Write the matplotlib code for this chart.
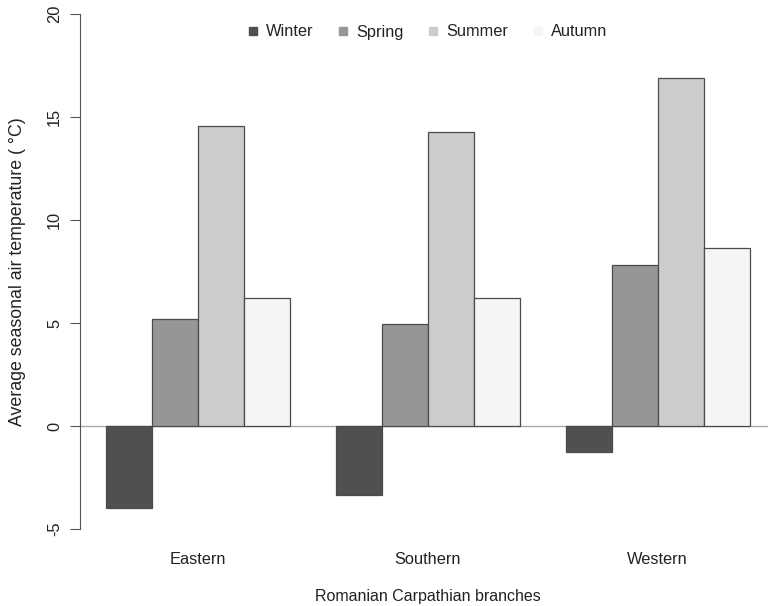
import numpy as np
import matplotlib.pyplot as plt
from matplotlib.lines import Line2D

plt.rcParams['font.family'] = ['Liberation Sans', 'DejaVu Sans']

# Data
branches = ["Eastern", "Southern", "Western"]
seasons = ["Winter", "Spring", "Summer", "Autumn"]
winter = [-4.0, -3.35, -1.25]
spring = [5.2, 4.95, 7.8]
summer = [14.55, 14.25, 16.9]
autumn = [6.2, 6.2, 8.65]
colors = ["#505050", "#969696", "#cccccc", "#f5f5f5"]

values = [winter, spring, summer, autumn]
fs = 11.8

fig = plt.figure(figsize=(7.68, 6.06), dpi=100)
ax = fig.add_axes([80 / 768, 1 - 549.6 / 606, 1 - 80 / 768, (549.6 + 6.6) / 606])

# R-style barplot layout: 1 unit gap before each group, bars of width 1
for i, (vals, col) in enumerate(zip(values, colors)):
    x = np.arange(len(branches)) * 5 + 1 + i + 0.5
    ax.bar(x, vals, width=1.0, color=col, edgecolor="#4a4a4a", linewidth=0.9, zorder=2)

ax.axhline(0, color="#aaaaaa", linewidth=1.0, zorder=1)

ax.set_xlim(0.44, 15.40)
ax.set_ylim(-6, 21)

for s in ["top", "right", "bottom"]:
    ax.spines[s].set_visible(False)
ax.spines["left"].set_bounds(-5, 20)
ax.spines["left"].set_color("#555555")

ax.set_yticks([-5, 0, 5, 10, 15, 20])
ax.set_yticklabels(["-5", "0", "5", "10", "15", "20"], rotation=90, va="center", fontsize=fs, color="#222222")
ax.tick_params(axis="y", length=7, color="#555555", pad=6)

centers = np.arange(len(branches)) * 5 + 3
ax.set_xticks(centers)
ax.set_xticklabels(branches, fontsize=fs, color="#222222")
ax.tick_params(axis="x", length=0, pad=2)

ax.set_ylabel("Average seasonal air temperature ( °C)", fontsize=12.8, color="#222222")
ax.yaxis.set_label_coords(-54 / 688, 0.5)
fig.text(428 / 768, 1 - 596 / 606, "Romanian Carpathian branches", ha="center", va="center",
         fontsize=11.5, color="#222222")

handles = [Line2D([], [], linestyle="none", marker="s", markersize=6,
                  markerfacecolor=c, markeredgecolor=c) for c in colors]
fig.legend(handles, seasons, loc="center", bbox_to_anchor=(426 / 768, 1 - 32 / 606),
           ncol=4, frameon=False, fontsize=fs, handletextpad=0.3, columnspacing=1.3,
           handlelength=1.0, labelcolor="#222222")

fig.savefig("out.png", dpi=100)
